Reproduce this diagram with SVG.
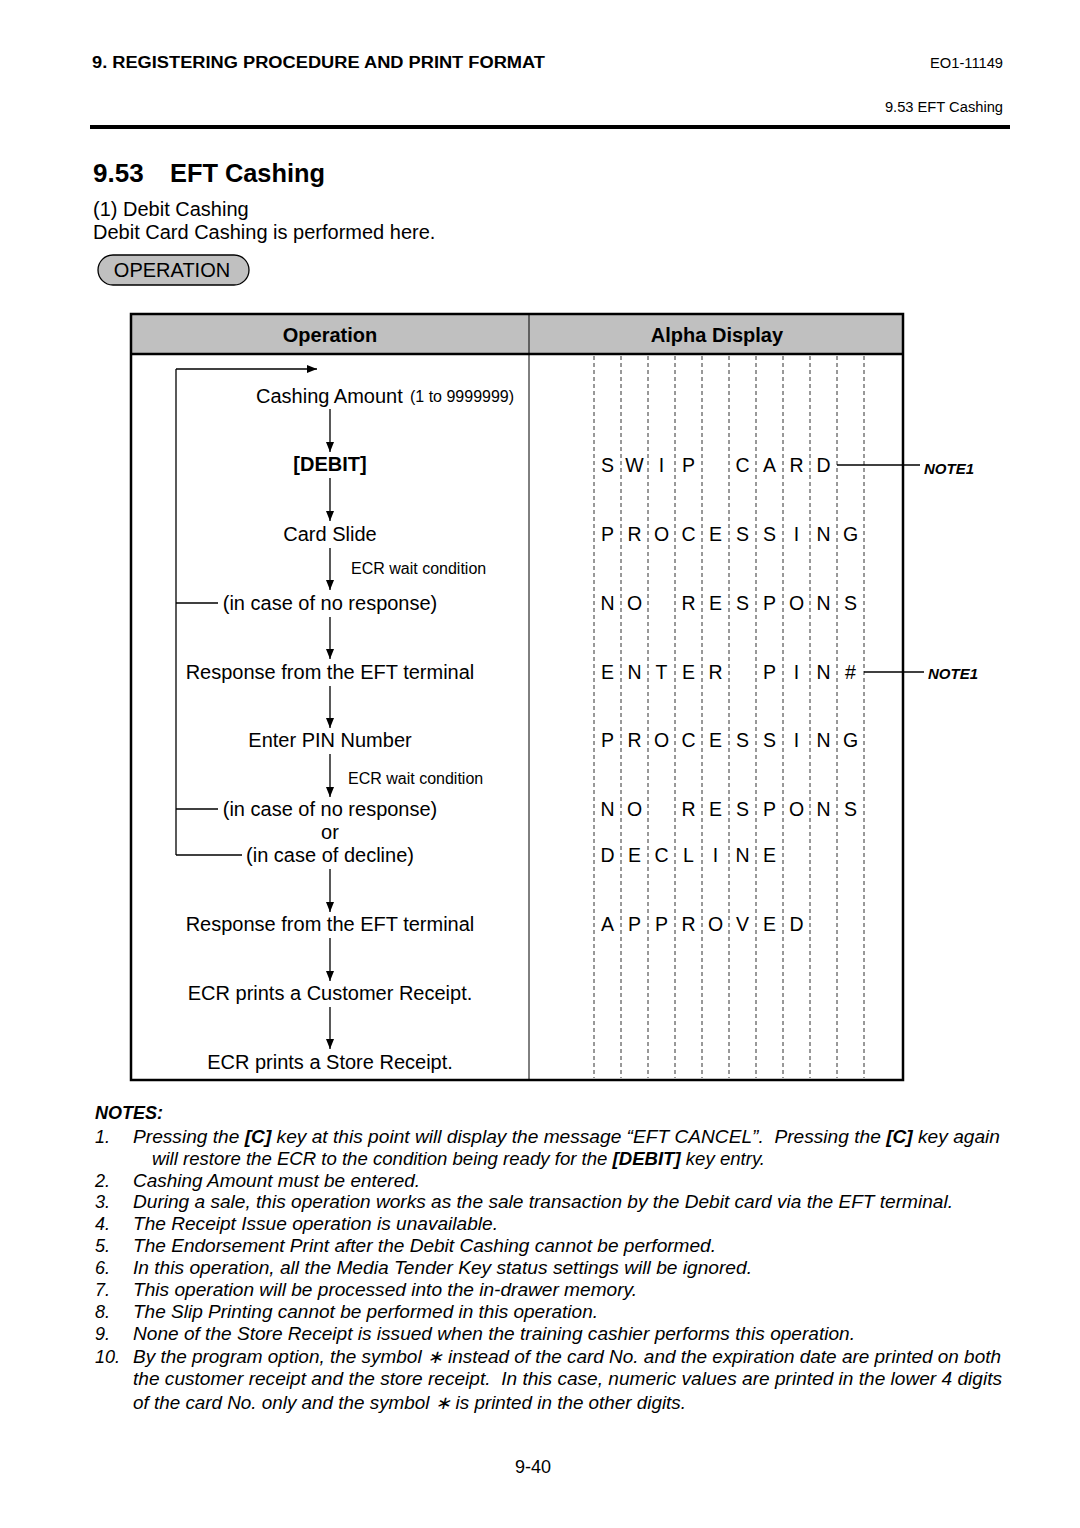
<svg xmlns="http://www.w3.org/2000/svg" width="1080" height="1528" viewBox="0 0 1080 1528">
<defs>
<style>
text{font-family:"Liberation Sans",Arial,Helvetica,sans-serif;fill:#000}
.hdr{font-size:16px;font-weight:bold}
.sm{font-size:14.7px}
.title{font-size:26px;font-weight:bold}
.body{font-size:20px}
.flow{font-size:20px;text-anchor:middle}
.tiny{font-size:16px}
.th{font-size:20px;font-weight:bold;text-anchor:middle}
.ad{font-size:19.5px;text-anchor:middle}
.note1{font-size:15px;font-weight:bold;font-style:italic}
.nt{font-size:18px;font-style:italic}
.b{font-weight:bold}
.ln{stroke:#000;stroke-width:1.3;fill:none}
.dash{stroke:#333;stroke-width:1;stroke-dasharray:4 3}
</style>
<marker id="ah" viewBox="0 0 10 8" refX="10" refY="4" markerWidth="10" markerHeight="8" markerUnits="userSpaceOnUse" orient="auto">
<path d="M0,0 L10,4 L0,8 z" fill="#000"/>
</marker>
</defs>
<rect x="0" y="0" width="1080" height="1528" fill="#fff"/>

<g id="page-header">
<text class="hdr" x="92" y="68" textLength="453" lengthAdjust="spacingAndGlyphs">9. REGISTERING PROCEDURE AND PRINT FORMAT</text>
<text class="sm" x="1003" y="68" text-anchor="end">EO1-11149</text>
<text class="sm" x="1003" y="112" text-anchor="end">9.53 EFT Cashing</text>
<rect x="90" y="125" width="920" height="4" fill="#000"/>
</g>

<g id="title">
<text class="title" x="93" y="182">9.53</text>
<text class="title" x="170" y="182" textLength="155" lengthAdjust="spacingAndGlyphs">EFT Cashing</text>
<text class="body" x="93" y="216">(1) Debit Cashing</text>
<text class="body" x="93" y="239">Debit Card Cashing is performed here.</text>
</g>

<g id="operation-pill">
<rect x="98" y="255" width="151" height="30" rx="15" ry="15" fill="#c0c0c0" stroke="#000" stroke-width="1.3"/>
<text class="body" x="172" y="277" text-anchor="middle">OPERATION</text>
</g>

<g id="table">
<rect x="131" y="314" width="772" height="40" fill="#c0c0c0"/>
<rect x="131" y="314" width="772" height="766" fill="none" stroke="#000" stroke-width="2.5"/>
<line x1="131" y1="354" x2="903" y2="354" stroke="#000" stroke-width="2.5"/>
<line x1="529" y1="314" x2="529" y2="1080" stroke="#000" stroke-width="1"/>
<text class="th" x="330" y="342">Operation</text>
<text class="th" x="717" y="342">Alpha Display</text>
<g id="dashes">
<line class="dash" x1="594" y1="356" x2="594" y2="1078"/>
<line class="dash" x1="621" y1="356" x2="621" y2="1078"/>
<line class="dash" x1="648" y1="356" x2="648" y2="1078"/>
<line class="dash" x1="675" y1="356" x2="675" y2="1078"/>
<line class="dash" x1="702" y1="356" x2="702" y2="1078"/>
<line class="dash" x1="729" y1="356" x2="729" y2="1078"/>
<line class="dash" x1="756" y1="356" x2="756" y2="1078"/>
<line class="dash" x1="783" y1="356" x2="783" y2="1078"/>
<line class="dash" x1="810" y1="356" x2="810" y2="1078"/>
<line class="dash" x1="837" y1="356" x2="837" y2="1078"/>
<line class="dash" x1="864" y1="356" x2="864" y2="1078"/>
</g>
</g>

<g id="connectors">
<line class="ln" x1="176" y1="369" x2="176" y2="855"/>
<line class="ln" x1="176" y1="369" x2="317" y2="369" marker-end="url(#ah)"/>
<line class="ln" x1="176" y1="603" x2="218" y2="603"/>
<line class="ln" x1="176" y1="809" x2="218" y2="809"/>
<line class="ln" x1="176" y1="855" x2="242" y2="855"/>
<line class="ln" x1="330" y1="409" x2="330" y2="452" marker-end="url(#ah)"/>
<line class="ln" x1="330" y1="478" x2="330" y2="521" marker-end="url(#ah)"/>
<line class="ln" x1="330" y1="548" x2="330" y2="590" marker-end="url(#ah)"/>
<line class="ln" x1="330" y1="617" x2="330" y2="659" marker-end="url(#ah)"/>
<line class="ln" x1="330" y1="686" x2="330" y2="728" marker-end="url(#ah)"/>
<line class="ln" x1="330" y1="754" x2="330" y2="797" marker-end="url(#ah)"/>
<line class="ln" x1="330" y1="869" x2="330" y2="912" marker-end="url(#ah)"/>
<line class="ln" x1="330" y1="938" x2="330" y2="981" marker-end="url(#ah)"/>
<line class="ln" x1="330" y1="1007" x2="330" y2="1049" marker-end="url(#ah)"/>
<line class="ln" x1="837" y1="465" x2="920" y2="465"/>
<line class="ln" x1="864" y1="672" x2="924" y2="672"/>
</g>

<g id="n-cashing-amount"><text class="body" x="256" y="403">Cashing Amount</text><text class="tiny" x="410" y="402">(1 to 9999999)</text></g>
<g id="n-debit"><text class="flow b" x="330" y="471">[DEBIT]</text></g>
<g id="n-card-slide"><text class="flow" x="330" y="541">Card Slide</text></g>
<g id="n-wait1"><text class="tiny" x="351" y="574">ECR wait condition</text></g>
<g id="n-noresp1"><text class="flow" x="330" y="610">(in case of no response)</text></g>
<g id="n-response1"><text class="flow" x="330" y="679">Response from the EFT terminal</text></g>
<g id="n-enter-pin"><text class="flow" x="330" y="747">Enter PIN Number</text></g>
<g id="n-wait2"><text class="tiny" x="348" y="784">ECR wait condition</text></g>
<g id="n-noresp2"><text class="flow" x="330" y="816">(in case of no response)</text><text class="flow" x="330" y="839">or</text><text class="flow" x="330" y="862">(in case of decline)</text></g>
<g id="n-response2"><text class="flow" x="330" y="931">Response from the EFT terminal</text></g>
<g id="n-cust-receipt"><text class="flow" x="330" y="1000">ECR prints a Customer Receipt.</text></g>
<g id="n-store-receipt"><text class="flow" x="330" y="1069">ECR prints a Store Receipt.</text></g>

<g id="alpha-display">
<g id="d-swip-card">
<text class="ad" x="607.5" y="472">S</text><text class="ad" x="634.5" y="472">W</text><text class="ad" x="661.5" y="472">I</text><text class="ad" x="688.5" y="472">P</text><text class="ad" x="742.5" y="472">C</text><text class="ad" x="769.5" y="472">A</text><text class="ad" x="796.5" y="472">R</text><text class="ad" x="823.5" y="472">D</text>
</g>
<g id="d-processing1">
<text class="ad" x="607.5" y="541">P</text><text class="ad" x="634.5" y="541">R</text><text class="ad" x="661.5" y="541">O</text><text class="ad" x="688.5" y="541">C</text><text class="ad" x="715.5" y="541">E</text><text class="ad" x="742.5" y="541">S</text><text class="ad" x="769.5" y="541">S</text><text class="ad" x="796.5" y="541">I</text><text class="ad" x="823.5" y="541">N</text><text class="ad" x="850.5" y="541">G</text>
</g>
<g id="d-no-respons1">
<text class="ad" x="607.5" y="610">N</text><text class="ad" x="634.5" y="610">O</text><text class="ad" x="688.5" y="610">R</text><text class="ad" x="715.5" y="610">E</text><text class="ad" x="742.5" y="610">S</text><text class="ad" x="769.5" y="610">P</text><text class="ad" x="796.5" y="610">O</text><text class="ad" x="823.5" y="610">N</text><text class="ad" x="850.5" y="610">S</text>
</g>
<g id="d-enter-pin">
<text class="ad" x="607.5" y="679">E</text><text class="ad" x="634.5" y="679">N</text><text class="ad" x="661.5" y="679">T</text><text class="ad" x="688.5" y="679">E</text><text class="ad" x="715.5" y="679">R</text><text class="ad" x="769.5" y="679">P</text><text class="ad" x="796.5" y="679">I</text><text class="ad" x="823.5" y="679">N</text><text class="ad" x="850.5" y="679">#</text>
</g>
<g id="d-processing2">
<text class="ad" x="607.5" y="747">P</text><text class="ad" x="634.5" y="747">R</text><text class="ad" x="661.5" y="747">O</text><text class="ad" x="688.5" y="747">C</text><text class="ad" x="715.5" y="747">E</text><text class="ad" x="742.5" y="747">S</text><text class="ad" x="769.5" y="747">S</text><text class="ad" x="796.5" y="747">I</text><text class="ad" x="823.5" y="747">N</text><text class="ad" x="850.5" y="747">G</text>
</g>
<g id="d-no-respons2">
<text class="ad" x="607.5" y="816">N</text><text class="ad" x="634.5" y="816">O</text><text class="ad" x="688.5" y="816">R</text><text class="ad" x="715.5" y="816">E</text><text class="ad" x="742.5" y="816">S</text><text class="ad" x="769.5" y="816">P</text><text class="ad" x="796.5" y="816">O</text><text class="ad" x="823.5" y="816">N</text><text class="ad" x="850.5" y="816">S</text>
</g>
<g id="d-decline">
<text class="ad" x="607.5" y="862">D</text><text class="ad" x="634.5" y="862">E</text><text class="ad" x="661.5" y="862">C</text><text class="ad" x="688.5" y="862">L</text><text class="ad" x="715.5" y="862">I</text><text class="ad" x="742.5" y="862">N</text><text class="ad" x="769.5" y="862">E</text>
</g>
<g id="d-approved">
<text class="ad" x="607.5" y="931">A</text><text class="ad" x="634.5" y="931">P</text><text class="ad" x="661.5" y="931">P</text><text class="ad" x="688.5" y="931">R</text><text class="ad" x="715.5" y="931">O</text><text class="ad" x="742.5" y="931">V</text><text class="ad" x="769.5" y="931">E</text><text class="ad" x="796.5" y="931">D</text>
</g>
</g>

<g id="note1-labels">
<text class="note1" x="924" y="474">NOTE1</text>
<text class="note1" x="928" y="679">NOTE1</text>
</g>

<g id="notes">
<text class="nt b" x="95" y="1119">NOTES:</text>
<text class="nt" x="95" y="1143">1.</text>
<text class="nt" x="133" y="1143" textLength="867" lengthAdjust="spacingAndGlyphs">Pressing the <tspan class="b">[C]</tspan> key at this point will display the message “EFT CANCEL”.&#160; Pressing the <tspan class="b">[C]</tspan> key again</text>
<text class="nt" x="152" y="1165" textLength="613" lengthAdjust="spacingAndGlyphs">will restore the ECR to the condition being ready for the <tspan class="b">[DEBIT]</tspan> key entry.</text>
<text class="nt" x="95" y="1187">2.</text>
<text class="nt" x="133" y="1187" textLength="287" lengthAdjust="spacingAndGlyphs">Cashing Amount must be entered.</text>
<text class="nt" x="95" y="1208">3.</text>
<text class="nt" x="133" y="1208" textLength="820" lengthAdjust="spacingAndGlyphs">During a sale, this operation works as the sale transaction by the Debit card via the EFT terminal.</text>
<text class="nt" x="95" y="1230">4.</text>
<text class="nt" x="133" y="1230" textLength="365" lengthAdjust="spacingAndGlyphs">The Receipt Issue operation is unavailable.</text>
<text class="nt" x="95" y="1252">5.</text>
<text class="nt" x="133" y="1252" textLength="583" lengthAdjust="spacingAndGlyphs">The Endorsement Print after the Debit Cashing cannot be performed.</text>
<text class="nt" x="95" y="1274">6.</text>
<text class="nt" x="133" y="1274" textLength="619" lengthAdjust="spacingAndGlyphs">In this operation, all the Media Tender Key status settings will be ignored.</text>
<text class="nt" x="95" y="1296">7.</text>
<text class="nt" x="133" y="1296" textLength="504" lengthAdjust="spacingAndGlyphs">This operation will be processed into the in-drawer memory.</text>
<text class="nt" x="95" y="1318">8.</text>
<text class="nt" x="133" y="1318" textLength="465" lengthAdjust="spacingAndGlyphs">The Slip Printing cannot be performed in this operation.</text>
<text class="nt" x="95" y="1340">9.</text>
<text class="nt" x="133" y="1340" textLength="722" lengthAdjust="spacingAndGlyphs">None of the Store Receipt is issued when the training cashier performs this operation.</text>
<text class="nt" x="95" y="1363">10.</text>
<text class="nt" x="133" y="1363" textLength="868" lengthAdjust="spacingAndGlyphs">By the program option, the symbol ∗ instead of the card No. and the expiration date are printed on both</text>
<text class="nt" x="133" y="1385" textLength="869" lengthAdjust="spacingAndGlyphs">the customer receipt and the store receipt.&#160; In this case, numeric values are printed in the lower 4 digits</text>
<text class="nt" x="133" y="1409" textLength="553" lengthAdjust="spacingAndGlyphs">of the card No. only and the symbol ∗ is printed in the other digits.</text>
</g>

<g id="footer">
<text x="533" y="1473" text-anchor="middle" font-size="18">9-40</text>
</g>
</svg>
